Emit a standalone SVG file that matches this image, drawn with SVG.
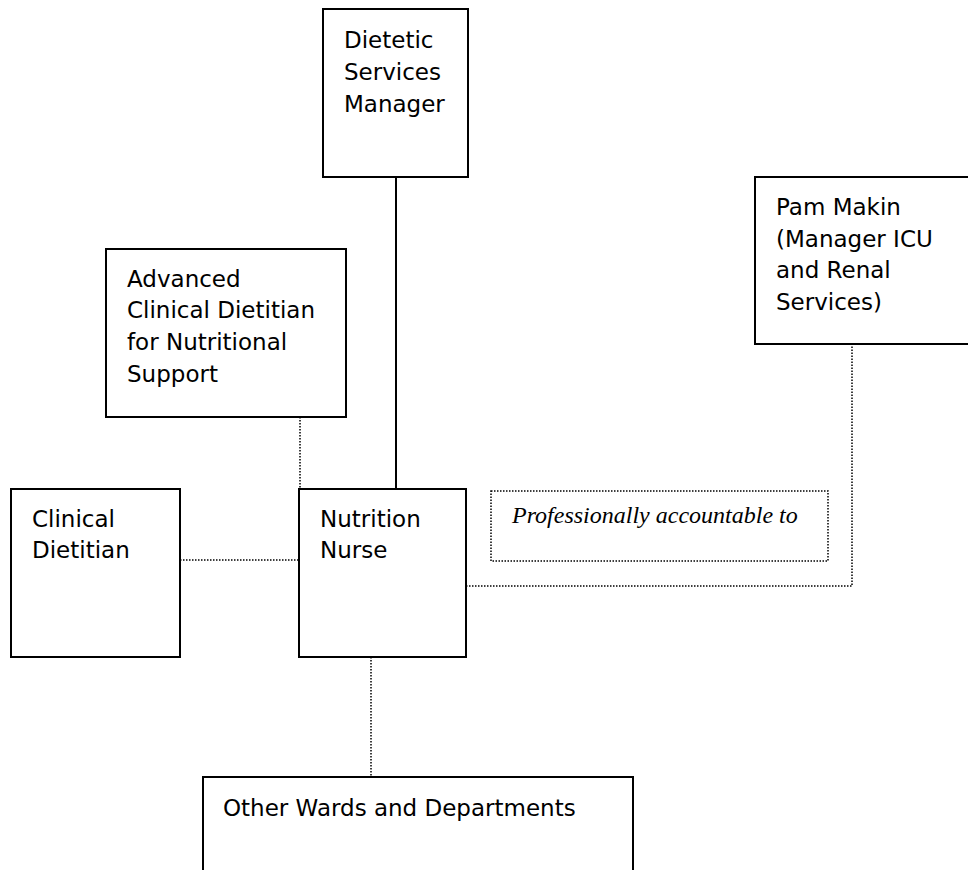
<svg xmlns="http://www.w3.org/2000/svg" width="968" height="870" viewBox="0 0 968 870">
<style>
.box{fill:#fff;stroke:#000;stroke-width:2}
.t{font-family:"DejaVu Sans",Tahoma,sans-serif;font-size:23px;fill:#000}
.it{font-family:"Liberation Serif","Times New Roman",serif;font-style:italic;font-size:24px;fill:#000}
.solid{stroke:#000;stroke-width:2;fill:none}
.dot{stroke:#000;stroke-width:1.5;stroke-dasharray:1.5 1.5;fill:none}
</style>
<rect width="968" height="870" fill="#fff"/>
<g id="connectors">
<line class="solid" x1="396" y1="177" x2="396" y2="489"/>
<line class="dot" x1="300" y1="417" x2="300" y2="489"/>
<line class="dot" x1="180" y1="560" x2="299" y2="560"/>
<polyline class="dot" points="466,586 852,586 852,344"/>
<line class="dot" x1="371" y1="657" x2="371" y2="777"/>
</g>
<g id="dsm">
<rect class="box" x="323" y="9" width="145" height="168"/>
<text class="t"><tspan x="344" y="48">Dietetic</tspan><tspan x="344" y="80">Services</tspan><tspan x="344" y="112">Manager</tspan></text>
</g>
<g id="pam">
<rect class="box" x="755" y="177" width="230" height="167"/>
<text class="t"><tspan x="776" y="215">Pam Makin</tspan><tspan x="776" y="247">(Manager ICU</tspan><tspan x="776" y="278">and Renal</tspan><tspan x="776" y="310">Services)</tspan></text>
</g>
<g id="acd">
<rect class="box" x="106" y="249" width="240" height="168"/>
<text class="t"><tspan x="127" y="287">Advanced</tspan><tspan x="127" y="318">Clinical Dietitian</tspan><tspan x="127" y="350">for Nutritional</tspan><tspan x="127" y="382">Support</tspan></text>
</g>
<g id="cd">
<rect class="box" x="11" y="489" width="169" height="168"/>
<text class="t"><tspan x="32" y="527">Clinical</tspan><tspan x="32" y="558">Dietitian</tspan></text>
</g>
<g id="nn">
<rect class="box" x="299" y="489" width="167" height="168"/>
<text class="t"><tspan x="320" y="527">Nutrition</tspan><tspan x="320" y="558">Nurse</tspan></text>
</g>
<g id="pa">
<rect class="dot" x="491" y="491" width="337" height="70"/>
<text class="it" x="512" y="523">Professionally accountable to</text>
</g>
<g id="owd">
<rect class="box" x="203" y="777" width="430" height="120"/>
<text class="t" x="223" y="816">Other Wards and Departments</text>
</g>
</svg>
